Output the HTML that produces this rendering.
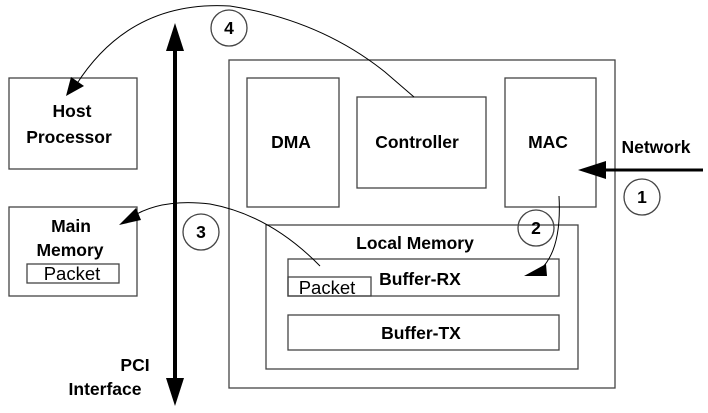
<!DOCTYPE html>
<html><head><style>body{margin:0;background:#fff}svg{display:block}text{font-family:"Liberation Sans",sans-serif;font-weight:bold;font-size:17.5px;fill:#000}</style></head><body>
<svg width="708" height="413" viewBox="0 0 708 413">
<g fill="none" stroke="#444" stroke-width="1.3">
<rect x="9" y="78" width="128" height="91"/>
<rect x="9" y="207" width="128" height="89"/>
<rect x="27" y="264" width="92" height="19"/>
<rect x="229" y="60" width="386" height="328"/>
<rect x="247" y="78" width="92" height="129"/>
<rect x="357" y="97" width="129" height="91"/>
<rect x="505" y="78" width="91" height="129"/>
<rect x="266" y="225" width="312" height="144"/>
<rect x="288" y="259" width="271" height="37"/>
<rect x="288" y="277" width="83" height="19"/>
<rect x="288" y="315" width="271" height="35"/>
<circle cx="642" cy="197" r="18"/>
<circle cx="536" cy="228" r="18"/>
<circle cx="201" cy="232" r="18"/>
<circle cx="229" cy="28" r="18"/>
</g>
<g fill="none" stroke="#000" stroke-width="1">
<path d="M414 97 L385 72 Q320 20 230 6 Q130 0 76 85"/>
<path d="M320 266 Q270 215 210 204 Q160 198 130 218"/>
<path d="M559 196 Q562 250 540 270"/>
</g>
<line x1="175" y1="45" x2="175" y2="380" stroke="#000" stroke-width="4"/>
<polygon points="175,23 166,51 184,51" fill="#000"/>
<polygon points="175,406 166,378 184,378" fill="#000"/>
<line x1="600" y1="170" x2="703" y2="170" stroke="#000" stroke-width="3"/>
<polygon points="578,170 606,161 606,179" fill="#000"/>
<polygon points="66,96 71,77 84,86" fill="#000"/>
<polygon points="119,225 136,208 141,220" fill="#000"/>
<polygon points="524,276 546,264 547,276" fill="#000"/>
<text x="72" y="117" text-anchor="middle">Host</text>
<text x="69" y="143" text-anchor="middle">Processor</text>
<text x="71" y="232" text-anchor="middle">Main</text>
<text x="70" y="256" text-anchor="middle">Memory</text>
<text x="72" y="280" text-anchor="middle" style="font-weight:normal;font-size:18.5px">Packet</text>
<text x="291" y="148" text-anchor="middle">DMA</text>
<text x="417" y="148" text-anchor="middle">Controller</text>
<text x="548" y="148" text-anchor="middle">MAC</text>
<text x="656" y="153" text-anchor="middle">Network</text>
<text x="415" y="249" text-anchor="middle">Local Memory</text>
<text x="420" y="285" text-anchor="middle">Buffer-RX</text>
<text x="327" y="294" text-anchor="middle" style="font-weight:normal;font-size:18.5px">Packet</text>
<text x="421" y="339" text-anchor="middle">Buffer-TX</text>
<text x="135" y="371" text-anchor="middle">PCI</text>
<text x="105" y="395" text-anchor="middle">Interface</text>
<text x="642" y="203" text-anchor="middle">1</text>
<text x="536" y="234" text-anchor="middle">2</text>
<text x="201" y="238" text-anchor="middle">3</text>
<text x="229" y="34" text-anchor="middle">4</text>
</svg>
</body></html>
